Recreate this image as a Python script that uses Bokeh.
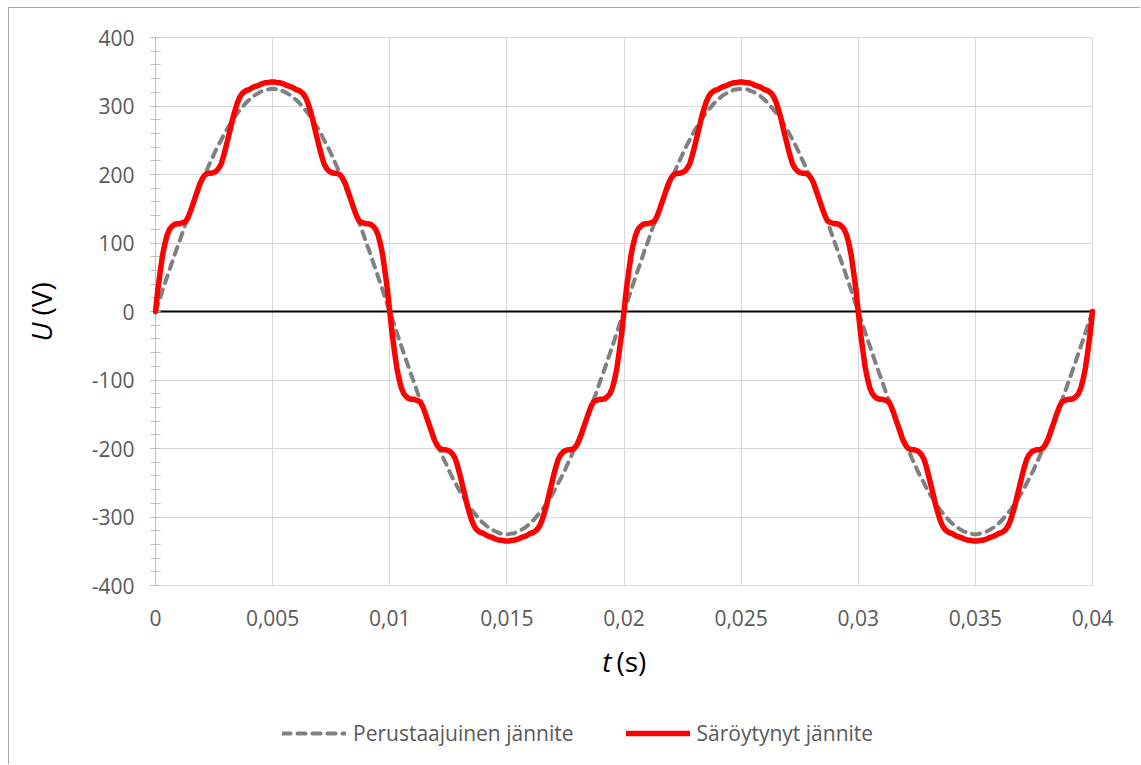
import numpy as np
from bokeh.plotting import figure
from bokeh.models import (ColumnDataSource, FixedTicker, Legend, LegendItem, Label,
                          LinearAxis, Grid)
from bokeh.embed import file_html
from bokeh.resources import INLINE

# One quarter period of the 50 Hz waveforms (time in ms, voltage in V);
# the rest of the two periods follows from the waveform symmetry.
t_quarter_ms = [0.0, 0.1, 0.2, 0.3, 0.4, 0.5, 0.6, 0.7, 0.8, 0.9,
                1.0, 1.1, 1.2, 1.3, 1.4, 1.5, 1.6, 1.7, 1.8, 1.9,
                2.0, 2.1, 2.2, 2.3, 2.4, 2.5, 2.6, 2.7, 2.8, 2.9,
                3.0, 3.1, 3.2, 3.3, 3.4, 3.5, 3.6, 3.7, 3.8, 3.9,
                4.0, 4.1, 4.2, 4.3, 4.4, 4.5, 4.6, 4.7, 4.8, 4.9, 5.0]

u_perus_quarter = [0, 10, 20, 31, 41, 51, 61, 71, 81, 91,
                   100, 110, 120, 129, 138, 148, 157, 165, 174, 183,
                   191, 199, 207, 215, 222, 230, 237, 244, 250, 257,
                   263, 269, 274, 280, 285, 290, 294, 298, 302, 306,
                   309, 312, 315, 317, 319, 321, 322, 324, 324, 325, 325]

u_saro_quarter = [0, 32, 58, 82, 99, 112, 120, 124, 127, 128,
                  128, 129, 130, 132, 138, 147, 157, 167, 177, 187,
                  194, 199, 201, 202, 202, 203, 205, 209, 215, 226,
                  239, 253, 267, 282, 294, 305, 313, 318, 321, 323,
                  324, 326, 328, 329, 330, 332, 333, 334, 334, 335, 335]

x_ticks = [0, 0.005, 0.01, 0.015, 0.02, 0.025, 0.03, 0.035, 0.04]
x_tick_labels = ["0", "0,005", "0,01", "0,015", "0,02", "0,025", "0,03", "0,035", "0,04"]
y_ticks = [-400, -300, -200, -100, 0, 100, 200, 300, 400]
y_tick_labels = ["-400", "-300", "-200", "-100", "0", "100", "200", "300", "400"]

series_names = ["Perustaajuinen jännite", "Säröytynyt jännite"]


def two_periods(quarter):
    tq = np.array(t_quarter_ms) / 1000.0
    q = np.array(quarter, dtype=float)
    half_t = np.concatenate([tq, 0.01 - tq[::-1][1:]])
    half_u = np.concatenate([q, q[::-1][1:]])
    per_t = np.concatenate([half_t, half_t[1:] + 0.01])
    per_u = np.concatenate([half_u, -half_u[1:]])
    t = np.concatenate([per_t, per_t[1:] + 0.02])
    u = np.concatenate([per_u, per_u[1:]])
    return t, u


t_all, u_perus = two_periods(u_perus_quarter)
_, u_saro = two_periods(u_saro_quarter)
src = ColumnDataSource(dict(t=t_all, perus=u_perus, saro=u_saro))

FONT = "Open Sans"
TICK_COLOR = "#595959"
GRID_COLOR = "#d9d9d9"
AXIS_COLOR = "#bfbfbf"

# Canvas size and the pixel box of the plotting area inside it. The frame fills
# the whole canvas, so that legend and axis titles can sit around the data area.
W, H = 1132, 757
X0, X1 = 0.0, 0.04
Y0, Y1 = -400.0, 400.0
PX_LEFT, PX_RIGHT, PX_TOP, PX_BOTTOM = 146, 1083, 29, 577
sx = (X1 - X0) / (PX_RIGHT - PX_LEFT)
sy = (Y1 - Y0) / (PX_BOTTOM - PX_TOP)
x_range = (X0 - PX_LEFT * sx, X1 + (W - PX_RIGHT) * sx)
y_range = (Y0 - (H - PX_BOTTOM) * sy, Y1 + PX_TOP * sy)

p = figure(width=W, height=H, x_range=x_range, y_range=y_range,
           output_backend="svg", toolbar_location=None, min_border=0,
           x_axis_location=None, y_axis_location=None)
p.styles = {"margin-left": "8px", "margin-top": "7px",
            "border-left": "1px solid #a6a6a6", "border-top": "1px solid #a6a6a6"}
p.outline_line_color = None
p.background_fill_color = "white"
p.border_fill_color = "white"
p.grid.visible = False

# grid lines limited to the data area
has_cross = "cross_bounds" in Grid.properties()
if has_cross:
    xg = Grid(dimension=0, ticker=FixedTicker(ticks=x_ticks), bounds=(X0, X1),
              cross_bounds=(Y0, Y1), grid_line_color=GRID_COLOR)
    yg = Grid(dimension=1, ticker=FixedTicker(ticks=y_ticks), bounds=(Y0, Y1),
              cross_bounds=(X0, X1), grid_line_color=GRID_COLOR)
    xg.level = "image"
    yg.level = "image"
    p.add_layout(xg)
    p.add_layout(yg)
else:
    gx = np.array(x_ticks, dtype=float)
    gy = np.array(y_ticks, dtype=float)
    p.segment(x0=gx, y0=np.full_like(gx, Y0), x1=gx, y1=np.full_like(gx, Y1),
              line_color=GRID_COLOR, line_width=1, level="image")
    p.segment(x0=np.full_like(gy, X0), y0=gy, x1=np.full_like(gy, X1), y1=gy,
              line_color=GRID_COLOR, line_width=1, level="image")

# horizontal axis crossing at U = 0 (black line)
zero_axis = LinearAxis(fixed_location=0, bounds=(X0, X1), axis_line_color="black",
                       axis_line_width=2, major_tick_line_color=None,
                       minor_tick_line_color=None, major_label_text_font_size="0px",
                       ticker=FixedTicker(ticks=[]))
zero_axis.level = "underlay"
p.add_layout(zero_axis, "below")

# tick labels of the time axis along the bottom edge
xaxis = LinearAxis(fixed_location=Y0, bounds=(X0, X1), axis_line_color=None,
                   major_tick_line_color=None, minor_tick_line_color=None,
                   ticker=FixedTicker(ticks=x_ticks),
                   major_label_overrides={t: s for t, s in zip(x_ticks, x_tick_labels)},
                   major_label_standoff=18, major_label_text_font=FONT,
                   major_label_text_font_size="21px", major_label_text_color=TICK_COLOR)
p.add_layout(xaxis, "below")

yaxis = LinearAxis(fixed_location=X0, bounds=(Y0, Y1), axis_line_color=AXIS_COLOR,
                   major_tick_line_color=AXIS_COLOR, minor_tick_line_color=AXIS_COLOR,
                   major_tick_in=5, major_tick_out=5, minor_tick_in=5, minor_tick_out=5,
                   ticker=FixedTicker(ticks=y_ticks, minor_ticks=list(range(-400, 401, 20))),
                   major_label_overrides={v: s for v, s in zip(y_ticks, y_tick_labels)},
                   major_label_standoff=16, major_label_text_font=FONT,
                   major_label_text_font_size="21px", major_label_text_color=TICK_COLOR)
yaxis.level = "underlay"
p.add_layout(yaxis, "left")

r_perus = p.line("t", "perus", source=src, line_color="#808080", line_width=4,
                 line_dash="8 7", line_cap="round")
r_saro = p.line("t", "saro", source=src, line_color="#ff0000", line_width=5.5,
                line_join="round", line_cap="round")

legend = Legend(items=[LegendItem(label=series_names[0], renderers=[r_perus]),
                       LegendItem(label=series_names[1], renderers=[r_saro])],
                location=(273, 18), orientation="horizontal",
                padding=0, margin=0, spacing=52, glyph_width=64, glyph_height=24,
                label_height=24, label_standoff=7,
                label_text_font=FONT, label_text_font_size="21px",
                label_text_color=TICK_COLOR,
                border_line_color=None, background_fill_alpha=0)
p.add_layout(legend)

# axis titles with italic quantity symbols
title_style = dict(x_units="screen", y_units="screen", text_font=FONT,
                   text_font_size="28px", text_color="black", text_baseline="middle")
p.add_layout(Label(x=602, y=105, text="t", text_align="right",
                   text_font_style="italic", **title_style))
p.add_layout(Label(x=607, y=105, text="(s)", text_align="left", **title_style))
p.add_layout(Label(x=31, y=443, text="U", text_align="right", angle=np.pi / 2,
                   text_font_style="italic", **title_style))
p.add_layout(Label(x=31, y=450, text="(V)", text_align="left", angle=np.pi / 2,
                   **title_style))

open("out.html", "w").write(file_html(p, INLINE))
